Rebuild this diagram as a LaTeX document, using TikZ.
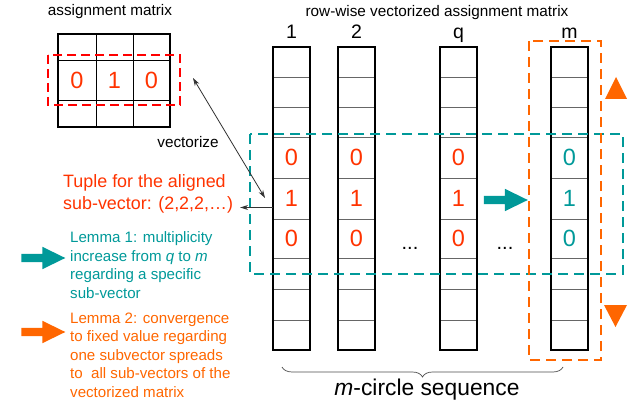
\documentclass[tikz,border=0pt]{standalone}
\usepackage{fontspec}
\setmainfont{Liberation Sans}
\usetikzlibrary{arrows.meta,decorations.pathreplacing,shapes.arrows}

\definecolor{tupred}{HTML}{FF3300}
\definecolor{lemteal}{HTML}{009999}
\definecolor{lemorange}{HTML}{FF6600}

\begin{document}
\begin{tikzpicture}[x=1pt, y=-1pt,
    digit/.style={inner sep=0pt, font=\fontsize{23.5}{24}\selectfont},
    collbl/.style={inner sep=0pt, anchor=base, font=\fontsize{19.5}{20}\selectfont},
    ttl/.style={inner sep=0pt, anchor=base, font=\fontsize{15.3}{18}\selectfont},
    txt/.style={inner sep=0pt, align=left, anchor=north west, font=\fontsize{15.1}{18.6}\selectfont},
    cellrule/.style={draw=black!60, line width=0.9pt},
    frame/.style={draw=black, line width=2.6pt},
    dashbox/.style={line width=1.8pt, dash pattern=on 10pt off 6pt},
    blk/.style={single arrow, draw=none, fill=#1, inner sep=4pt, minimum height=44pt,
        minimum width=22pt, single arrow head extend=7pt, single arrow tip angle=52},
    thinarrow/.style={draw=black!80, line width=0.8pt}]
    \useasboundingbox (0,0) rectangle (638,404);

    % assignment matrix
    \node[style=ttl] (mattitle) at (110,16) {assignment matrix};
    \draw[black, line width=0.9pt] (58,60) -- (170,60) (58,100) -- (170,100)
        (96,34) -- (96,127) (133,34) -- (133,127);
    \draw[style=frame] (58,34) rectangle (170,127);
    \node[style=digit, text=tupred] (m1) at (77,80) {0};
    \node[style=digit, text=tupred] (m2) at (114.5,80) {1};
    \node[style=digit, text=tupred] (m3) at (151.5,80) {0};
    \draw[style=dashbox, draw=red, dash pattern=on 9pt off 5pt] (48,55) rectangle (180,105);

    % vectorized columns
    \node[style=ttl] (vectitle) at (437,16.5) {row-wise vectorized assignment matrix};
    \foreach \cx/\cn/\lab/\cc in {273/c1/1/tupred, 338/c2/2/tupred, 440/cq/q/tupred, 551/cm/m/lemteal} {
        \foreach \ry in {77,107,137,178,219,258,289,320}
            \draw[cellrule] (\cx,\ry) -- ++(37,0);
        \draw[frame] (\cx,47) rectangle ++(37,303);
        \node[collbl] (\cn-lbl) at (\cx+18.5,39) {\lab};
        \node[digit, text=\cc] (\cn-a) at (\cx+18.5,157.5) {0};
        \node[digit, text=\cc] (\cn-b) at (\cx+18.5,198.5) {1};
        \node[digit, text=\cc] (\cn-c) at (\cx+18.5,238.5) {0};
    }
    \node[collbl, font=\fontsize{20}{20}\selectfont] (dots1) at (410,249) {...};
    \node[collbl, font=\fontsize{20}{20}\selectfont] (dots2) at (505,249) {...};
    \node[style={blk=lemteal}] (shift) at (501.5,200) {};

    % dashed frames
    \draw[style=dashbox, draw=lemteal] (250,134) rectangle (623,274);
    \draw[style=dashbox, draw=lemorange] (529,41) rectangle (601,360);
    \fill[lemorange] (605,99) -- (627,99) -- (616,77) -- cycle;
    \fill[lemorange] (604,305) -- (627,305) -- (615.5,327) -- cycle;

    % vectorize and tuple
    \coordinate (vecfrom) at (193,78);
    \coordinate (vecto) at (265,198);
    \draw[style=thinarrow, {Stealth[length=8pt,width=5pt]}-{Stealth[length=8pt,width=5pt]}] (vecfrom) -- (vecto);
    \node[style=ttl] (veclbl) at (188,147) {vectorize};

    \node[style=txt, text=tupred, font=\fontsize{17.9}{22}\selectfont] (tuple) at (63,174.5)
        {Tuple for the aligned\\sub-vector: (2,2,2,…)};
    \coordinate (tupfrom) at (273,207.5);
    \draw[style=thinarrow, -{Stealth[length=8pt,width=5pt]}] (tupfrom) -- ([xshift=7pt]tuple.east |- tupfrom);

    % lemmas
    \node[style={blk=lemteal}] (arr1) at (39,258) {};
    \node[style=txt, text=lemteal] (lem1) at (70,231.4)
        {Lemma 1: multiplicity\\increase from \textit{q} to \textit{m}\\regarding a specific\\sub-vector};
    \node[style={blk=lemorange}] (arr2) at (39,332) {};
    \node[style=txt, text=lemorange] (lem2) at (70,312.4)
        {Lemma 2: convergence\\to fixed value regarding\\one subvector spreads\\to\ \ all sub-vectors of the\\vectorized matrix};

    % brace
    \draw[draw=black!70, line width=0.7pt, decorate, decoration={brace, mirror, amplitude=10pt}]
        (282,367) -- (563,367);
    \node[inner sep=0pt, anchor=base, font=\fontsize{22.8}{24}\selectfont] (seq) at (427,395)
        {\textit{m}-circle sequence};
\end{tikzpicture}
\end{document}
